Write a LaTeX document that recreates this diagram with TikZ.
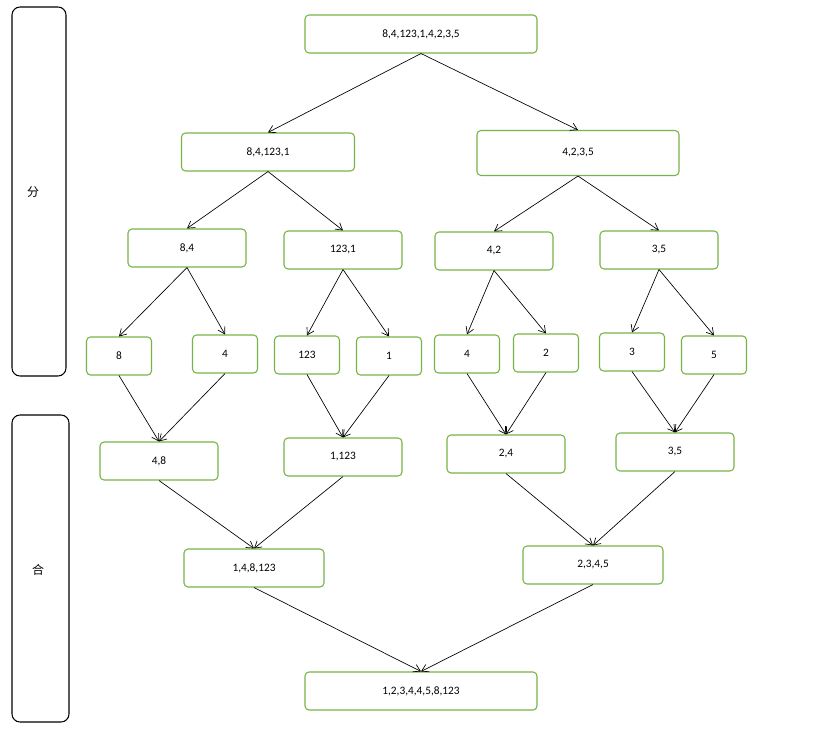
\documentclass[tikz,border=0pt]{standalone}
\usepackage{fontspec}
\setmainfont{Carlito}
\newfontfamily\cjk{Noto Sans CJK SC}
\definecolor{boxgreen}{HTML}{77B347}
\usetikzlibrary{arrows.meta}
\begin{document}
\begin{tikzpicture}[
  x=0.75pt, y=-0.75pt,
  box/.style={draw=boxgreen, thick, rounded corners=3pt, inner sep=0pt,
    font=\fontsize{8.5}{10}\selectfont, minimum height=28.5pt},
  side/.style={draw=black, thick, rounded corners=6pt, inner sep=0pt},
  arr/.style={-{Straight Barb[length=5pt,width=6pt]}, line width=0.5pt}
]
  \useasboundingbox (0,0) rectangle (814,731);
  % side labels
  \node[side, minimum width=40.5pt, minimum height=276.75pt] (split) at (39,191.5) {};
  \node[font=\cjk\fontsize{9}{10}\selectfont] at (33,192) {分};
  \node[side, minimum width=42.75pt, minimum height=230.25pt] (merge) at (40.5,568.5) {};
  \node[font=\cjk\fontsize{9}{10}\selectfont] at (38,570) {合};

  % split levels
  \node[box, minimum width=174pt] (all) at (421,34) {8,4,123,1,4,2,3,5};
  \node[box, minimum width=129.75pt] (la) at (268,152) {8,4,123,1};
  \node[box, minimum width=151.5pt, minimum height=33.75pt] (lb) at (578,153) {4,2,3,5};
  \node[box, minimum width=88.5pt] (s84) at (187,248) {8,4};
  \node[box, minimum width=88.5pt] (s1231) at (343,250) {123,1};
  \node[box, minimum width=88.5pt] (s42) at (494,251) {4,2};
  \node[box, minimum width=88.5pt] (s35) at (659,250) {3,5};
  \node[box, minimum width=48.75pt] (e8) at (119,356) {8};
  \node[box, minimum width=48.75pt] (e4) at (225,354) {4};
  \node[box, minimum width=48.75pt] (e123) at (307,355) {123};
  \node[box, minimum width=48.75pt] (e1) at (389,356) {1};
  \node[box, minimum width=48.75pt] (f4) at (467,354) {4};
  \node[box, minimum width=48.75pt] (f2) at (546,353) {2};
  \node[box, minimum width=48.75pt] (f3) at (632,352) {3};
  \node[box, minimum width=48.75pt] (f5) at (714,355) {5};

  % merge levels
  \node[box, minimum width=88.5pt] (m48) at (159,461) {4,8};
  \node[box, minimum width=88.5pt] (m1123) at (343,457) {1,123};
  \node[box, minimum width=88.5pt] (m24) at (506,454) {2,4};
  \node[box, minimum width=88.5pt] (m35) at (675,452) {3,5};
  \node[box, minimum width=105pt] (ma) at (254,568) {1,4,8,123};
  \node[box, minimum width=105pt] (mb) at (593,565) {2,3,4,5};
  \node[box, minimum width=174pt] (sorted) at (421,691) {1,2,3,4,4,5,8,123};

  \draw[arr] (all.south) -- (la.north);
  \draw[arr] (all.south) -- (lb.north);
  \draw[arr] (la.south) -- (s84.north);
  \draw[arr] (la.south) -- (s1231.north);
  \draw[arr] (lb.south) -- (s42.north);
  \draw[arr] (lb.south) -- (s35.north);
  \draw[arr] (s84.south) -- (e8.north);
  \draw[arr] (s84.south) -- (e4.north);
  \draw[arr] (s1231.south) -- (e123.north);
  \draw[arr] (s1231.south) -- (e1.north);
  \draw[arr] (s42.south) -- (f4.north);
  \draw[arr] (s42.south) -- (f2.north);
  \draw[arr] (s35.south) -- (f3.north);
  \draw[arr] (s35.south) -- (f5.north);

  \draw[arr] (e8.south) -- (m48.north);
  \draw[arr] (e4.south) -- (m48.north);
  \draw[arr] (e123.south) -- (m1123.north);
  \draw[arr] (e1.south) -- (m1123.north);
  \draw[arr] (f4.south) -- (m24.north);
  \draw[arr] (f2.south) -- (m24.north);
  \draw[arr] (f3.south) -- (m35.north);
  \draw[arr] (f5.south) -- (m35.north);
  \draw[arr] (m48.south) -- (ma.north);
  \draw[arr] (m1123.south) -- (ma.north);
  \draw[arr] (m24.south) -- (mb.north);
  \draw[arr] (m35.south) -- (mb.north);
  \draw[arr] (ma.south) -- (sorted.north);
  \draw[arr] (mb.south) -- (sorted.north);
\end{tikzpicture}
\end{document}
